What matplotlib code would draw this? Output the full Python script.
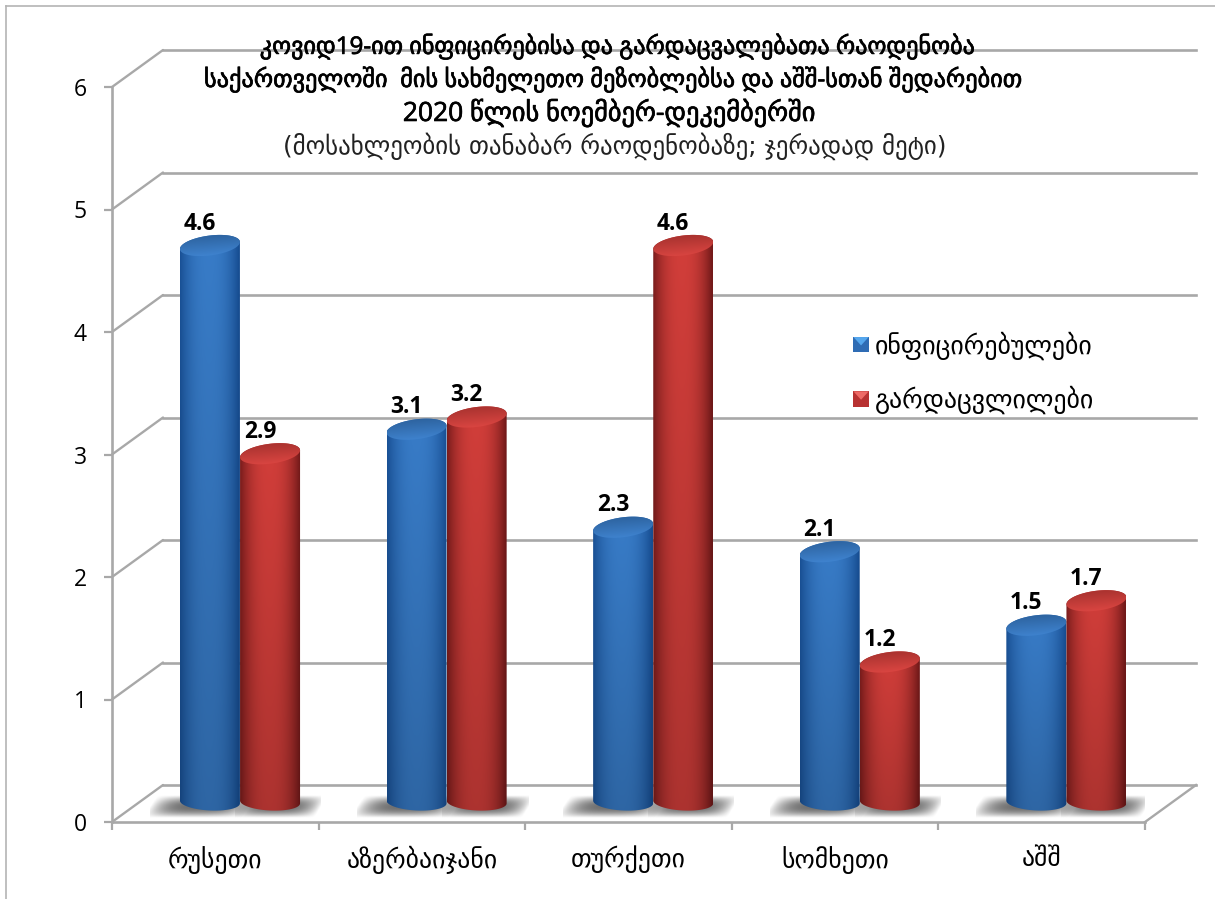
import numpy as np
import matplotlib
matplotlib.use("Agg")
import matplotlib.pyplot as plt
from matplotlib.lines import Line2D
from matplotlib.patches import Rectangle, Polygon, PathPatch
from matplotlib.path import Path
from matplotlib.legend_handler import HandlerBase
import matplotlib.patheffects as pe

categories = ["რუსეთი", "აზერბაიჯანი", "თურქეთი", "სომხეთი", "აშშ"]
infected = [4.6, 3.1, 2.3, 2.1, 1.5]
deaths = [2.9, 3.2, 4.6, 1.2, 1.7]
series_names = ["ინფიცირებულები", "გარდაცვლილები"]
y_ticks = [0, 1, 2, 3, 4, 5, 6]
title_lines = [
    "კოვიდ19-ით ინფიცირებისა და გარდაცვალებათა რაოდენობა",
    "საქართველოში  მის სახმელეთო მეზობლებსა და აშშ-სთან შედარებით",
    "2020 წლის ნოემბერ-დეკემბერში",
]
subtitle = "(მოსახლეობის თანაბარ რაოდენობაზე; ჯერადად მეტი)"

W, H = 1215, 899
GRID = "#a8a8a8"
FONT = ["Open Sans", "DejaVu Sans"]
GEO = ["DejaVu Sans"]

fig = plt.figure(figsize=(W / 100, H / 100), dpi=100, facecolor="white")
ax = fig.add_axes([112 / W, 1 - 822 / H, (1145 - 112) / W, (822 - 87) / H])
ax.set_facecolor("none")
XMAX, YMAX = 5, 6
unit_x = (1145 - 112) / XMAX
unit_y = (822 - 87) / YMAX
depth_x, depth_y = 51 / unit_x, 37 / unit_y

# page frame
fig.add_artist(Line2D([6 / W, 1], [1 - 6 / H, 1 - 6 / H], color="#b4b4b4", lw=1.2))
fig.add_artist(Line2D([6 / W, 6 / W], [0, 1 - 6 / H], color="#b4b4b4", lw=1.2))

# walls
for v in y_ticks:
    ax.plot([0, depth_x], [v, v + depth_y], color=GRID, lw=1.7, zorder=1, clip_on=False,
            solid_capstyle="round")
    ax.plot([depth_x, XMAX + depth_x], [v + depth_y, v + depth_y], color=GRID, lw=1.9,
            zorder=1, clip_on=False)
ax.plot([XMAX, XMAX + depth_x], [0, depth_y], color=GRID, lw=1.7, zorder=1, clip_on=False)

# cylinders
bar_w = 60 / unit_x
ell_h = 10 / unit_y
tilt = 3.5 / unit_y
top_base = 13 / unit_y
foot_y = 20 / unit_y
foot_h = 8.5 / unit_y
offs = [0.474, 0.765]
blue = (np.array([0x17, 0x4e, 0x93]), np.array([0x38, 0x7c, 0xc8]))
red = (np.array([0x74, 0x1a, 0x1a]), np.array([0xd2, 0x3e, 0x3a]))


def shadow(xc, half_w, strength):
    nx, ny = 160, 50
    u = np.linspace(-1, 1, nx)
    t = np.linspace(-1, 1, ny)
    U, T = np.meshgrid(u, t)
    a = np.clip(1 - np.abs(U + T * 0.15) ** 3, 0, 1) * np.clip(1 - np.abs(T) ** 2.2, 0, 1) ** 1.2 * strength
    img = np.zeros((ny, nx, 4))
    img[..., :3] = 0.33
    img[..., 3] = a
    ax.imshow(img, extent=(xc - half_w, xc + half_w, 4 / unit_y, 27 / unit_y),
              aspect="auto", zorder=2, origin="upper", interpolation="bilinear")


def cylinder(xc, v, cols, z):
    x0, x1 = xc - bar_w / 2, xc + bar_w / 2
    top = top_base + v
    edge, mid = cols
    th = np.linspace(0, np.pi, 60)
    upper = np.c_[xc + np.cos(th) * bar_w / 2, top + np.sin(th) * ell_h + np.cos(th) * tilt]
    lower = np.c_[xc - np.cos(th) * bar_w / 2, foot_y - np.sin(th) * foot_h - np.cos(th) * tilt * -0.4]
    outline = np.r_[upper, lower, upper[:1]]
    clip = PathPatch(Path(outline), transform=ax.transData, fc="none", ec="none")
    ax.add_patch(clip)
    nx, ny = 120, 120
    s = np.linspace(-1, 1, nx)
    f = np.clip(1 - np.abs(s + 0.03) ** 2.4, 0, 1)[None, :, None]
    shade = np.linspace(1.0, 0.82, ny)[:, None, None]
    img = (edge[None, None, :] * (1 - f) + mid[None, None, :] * f) * shade / 255
    im = ax.imshow(np.clip(img, 0, 1), extent=(x0, x1, foot_y - foot_h - tilt, top + ell_h + tilt),
                   aspect="auto", zorder=z, origin="upper", interpolation="bilinear")
    im.set_clip_path(clip)
    # top face
    t2 = np.linspace(0, 2 * np.pi, 100)
    face = np.c_[xc + np.cos(t2) * bar_w / 2, top + np.sin(t2) * ell_h + np.cos(t2) * tilt]
    clip2 = PathPatch(Path(face), transform=ax.transData, fc="none", ec="none")
    ax.add_patch(clip2)
    lit = np.clip(mid * 0.92, 0, 255)
    rim = np.clip(mid * 1.06 + 8, 0, 255)
    s2 = np.linspace(0, 1, 40)[None, :, None]
    r2 = np.linspace(0, 1, 40)[:, None, None]
    img2 = (lit[None, None, :] * 0.86 * (1 - r2) + rim[None, None, :] * r2) * (0.94 + 0.06 * s2) / 255
    im2 = ax.imshow(np.clip(img2, 0, 1), extent=(x0, x1, top - ell_h - tilt, top + ell_h + tilt),
                    aspect="auto", zorder=z + 0.1, origin="upper", interpolation="bilinear")
    im2.set_clip_path(clip2)
    return top


for i in range(len(categories)):
    shadow(i + offs[0] - 10 / unit_x, 50 / unit_x, 0.85)
    shadow(i + offs[1] + 8 / unit_x, 43 / unit_x, 0.85)

for i, (a, b) in enumerate(zip(infected, deaths)):
    for xo, v, cols, z in ((offs[0], a, blue, 3), (offs[1], b, red, 4)):
        xc = i + xo
        top = cylinder(xc, v, cols, z)
        ax.annotate(f"{v:.1f}", xy=(xc, top), xytext=(-7.2, 15.8), textcoords="offset points",
                    ha="center", va="center", fontsize=16.5, fontweight="bold",
                    family="Open Sans", color="black", zorder=6)

# axes furniture
ax.set_xlim(0, XMAX)
ax.set_ylim(0, YMAX)
for s in ("top", "right"):
    ax.spines[s].set_visible(False)
for s in ("left", "bottom"):
    ax.spines[s].set_color(GRID)
    ax.spines[s].set_linewidth(1.9)
    ax.spines[s].set_zorder(1.5)
ax.set_yticks(y_ticks)
ax.set_yticklabels([str(t) for t in y_ticks], family=FONT, fontsize=16.5)
ax.tick_params(axis="y", length=6, width=1.6, color=GRID, pad=12)
ax.set_xticks(range(len(categories) + 1))
ax.set_xticklabels([])
ax.tick_params(axis="x", which="major", length=6, width=1.6, color=GRID)
ax.set_xticks([i + 0.5 for i in range(len(categories))], minor=True)
ax.set_xticklabels(categories, minor=True, family=GEO, fontsize=18.5)
ax.tick_params(axis="x", which="minor", length=0, pad=17)

# title
stroke = [pe.withStroke(linewidth=0.5, foreground="black")]
for line, x, y, fs in zip(title_lines, (617, 612, 609), (47, 80, 113), (17.4, 17.5, 19)):
    fig.text(x / W, 1 - y / H, line, ha="center", va="center", family=FONT,
             fontsize=fs, color="black", path_effects=stroke)
fig.text(615 / W, 1 - 146 / H, subtitle, ha="center", va="center", family=GEO,
         fontsize=17.9, color="#222222")


# legend
class SwatchHandler(HandlerBase):
    def __init__(self, dark, light):
        super().__init__()
        self.dark, self.light = dark, light

    def create_artists(self, legend, orig, xd, yd, w, h, fontsize, trans):
        side = 11
        x0, y0 = (w - side) / 2 - xd, (h - side) / 2 - yd
        sq = Rectangle((x0, y0), side, side, fc=self.dark, ec="none", transform=trans)
        tri = Polygon([(x0, y0 + side), (x0 + side, y0 + side), (x0 + side / 2, y0 + side * 0.45)],
                      closed=True, fc=self.light, ec="none", transform=trans)
        return [sq, tri]


h1 = Rectangle((0, 0), 1, 1, label=series_names[0])
h2 = Rectangle((0, 0), 1, 1, label=series_names[1])
leg = ax.legend(handles=[h1, h2], frameon=False, prop={"family": GEO, "size": 18.6},
                handler_map={h1: SwatchHandler("#2f6cb4", "#55a7ee"), h2: SwatchHandler("#b83232", "#ee6a66")},
                loc="upper left", bbox_to_anchor=((852 - 112) / (1145 - 112), (822 - 331.5) / (822 - 87)),
                labelspacing=1.0, handlelength=0.7, handletextpad=0.19, borderpad=0, borderaxespad=0)
leg.set_zorder(7)

fig.savefig("out.png", dpi=100, facecolor="white")
